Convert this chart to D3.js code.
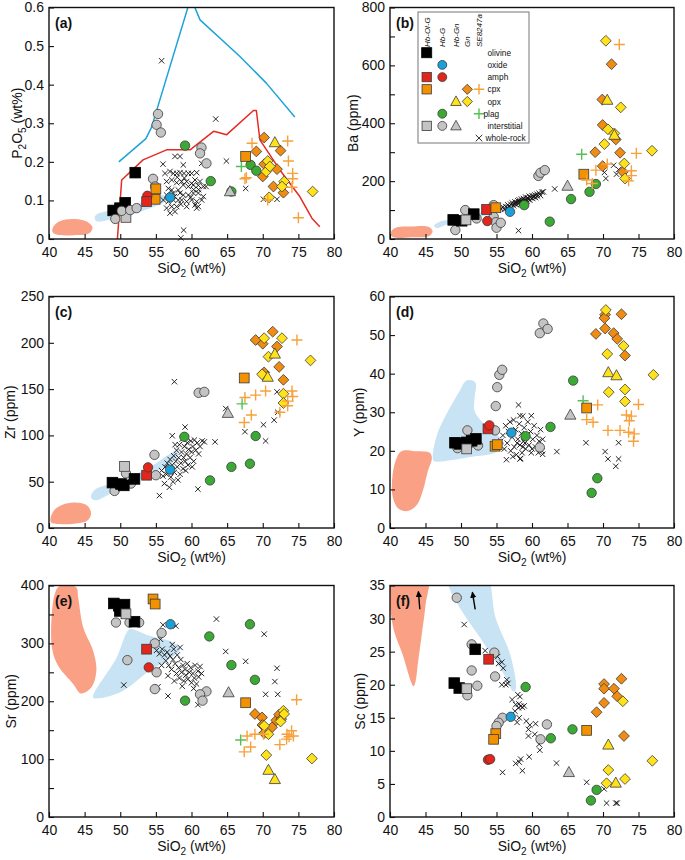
<!DOCTYPE html>
<html><head><meta charset="utf-8">
<script src="https://cdn.jsdelivr.net/npm/d3@7"></script>
<style>
body{margin:0;background:#fff}
svg{display:block}
text{font-family:"Liberation Sans",Arial,Helvetica,sans-serif;fill:#111}
</style>
</head><body>
<svg id="c" width="685" height="860"></svg>
<script>
// ---------------- DATA ----------------
const siO2Ticks = [40,45,50,55,60,65,70,75,80];

// Panel (a) P2O5
const a_yMajor = [0,0.1,0.2,0.3,0.4,0.5,0.6];
const a_salmon = [[40.6,0.032],[41.5,0.046],[43.3,0.052],[45.2,0.046],[46.1,0.030],[45.6,0.014],[43.5,0.010],[41.2,0.011],[40.5,0.018]];
const a_blue = [[46.4,0.056],[46.7,0.046],[50,0.057],[53,0.072],[56.3,0.097],[56.6,0.108],[55.6,0.114],[52.5,0.092],[49.2,0.076],[46.9,0.066]];
const a_blueLine = [[49.8,0.20],[53.6,0.26],[54.4,0.29],[59.9,0.625],[61.2,0.568],[66.8,0.473],[70.5,0.404],[74.5,0.316]];
const a_redLine = [[49.6,0],[50.2,0.153],[53.2,0.205],[56.5,0.231],[59.8,0.231],[63.1,0.279],[63.8,0.276],[64.9,0.27],[68.7,0.333],[69.1,0.333],[69.6,0.257],[72.4,0.179],[75.2,0.11],[76.9,0.054],[78.0,0.032]];
const a_wr = [[55.8,0.462],[63.4,0.311],[56.0,0.194],[64.9,0.202],[67.6,0.131],[70.1,0.103],[72.0,0.103],[58.9,0.023],[58.5,0.003],
 [57.68,0.214],[58.39,0.214],[58.85,0.192],[56.28,0.170],[56.98,0.175],[57.45,0.170],[57.92,0.170],[58.39,0.172],[58.95,0.170],[59.56,0.170],[60.02,0.170],[60.73,0.172],
 [56.51,0.149],[57.22,0.153],[57.92,0.146],[58.62,0.149],[59.32,0.149],[60.02,0.144],[60.49,0.153],[61.19,0.149],
 [56.75,0.131],[57.22,0.127],[58.15,0.127],[58.85,0.140],[59.56,0.136],[60.26,0.140],[60.96,0.139],[61.66,0.136],[62.04,0.136],
 [56.51,0.114],[57.45,0.119],[58.39,0.119],[58.85,0.114],[59.56,0.114],[60.26,0.119],[60.96,0.119],[61.66,0.110],
 [56.05,0.101],[56.75,0.097],[57.45,0.101],[58.15,0.101],[58.62,0.101],[59.32,0.097],[60.02,0.101],[60.73,0.097],[61.43,0.101],
 [56.51,0.080],[57.22,0.084],[57.92,0.084],[59.32,0.084],[60.49,0.088],[60.96,0.084],[56.98,0.067],[57.68,0.071],[60.73,0.080],[61.43,0.196],
 [58.0,0.160],[59.0,0.158],[60.3,0.128],[57.6,0.110],[59.9,0.108],[58.5,0.090],[61.0,0.128]];
const a_min = [["sqK",49.0,0.074],["sqK",49.96,0.08],["sqK",50.7,0.094],["sqK",52.1,0.172],["sqG",50.8,0.056],
 ["ciG",49.3,0.052],["ciG",50.2,0.073],["ciG",51.4,0.075],["ciG",52.3,0.08],["ciG",55.3,0.324],["ciG",55.1,0.296],["ciG",55.7,0.276],["ciG",54.6,0.156],["ciG",54.9,0.136],["ciG",61.4,0.237],["ciG",61.2,0.222],["ciG",62.1,0.196],
 ["sqO",55.0,0.13],["sqO",54.9,0.103],["ciR",53.8,0.112],["sqR",53.7,0.097],["ciB",57.0,0.108],
 ["ciGn",59.1,0.242],["ciGn",62.7,0.15],["ciGn",65.6,0.123],["trG",65.4,0.123],["ciGn",68.3,0.192],["ciGn",69.1,0.177],["plG",67.0,0.188],["sqO",67.6,0.214],
 ["diO",70.2,0.263],["diO",69.1,0.227],["diO",72.5,0.229],["diO",70.2,0.194],["diO",72.0,0.181],["diO",70.0,0.162],["diO",71.5,0.136],["diO",72.9,0.12],
 ["diY",70.7,0.202],["diY",70.5,0.175],["diY",71.0,0.188],["diY",73.0,0.149],["diY",72.7,0.136],["diY",70.9,0.108],["diY",77.0,0.123],["trY",71.7,0.25],
 ["plO",68.5,0.248],["plO",73.5,0.254],["plO",73.6,0.202],["plO",74.2,0.17],["plO",74.2,0.156],["plO",67.5,0.156],["plO",67.7,0.159],["plO",74.1,0.134],["plO",70.7,0.101],["plO",75.0,0.055]];

// Panel (b) Ba
const b_yMajor = [0,200,400,600,800];
const b_yMinor = [100,300,500,700];
const b_salmon = [[40.2,28],[40.9,40],[43,43],[45.4,42],[46.0,27],[45.5,10],[43,6],[40.6,5],[40.1,14]];
const b_blue = [[46.2,46],[47,60],[50,72],[53.5,98],[56,116],[55.8,100],[52.5,76],[48.5,54],[46.6,38]];
const b_wr = [[55.6,104],[55.9,110],[56.1,102],[56.3,112],[56.5,108],[56.6,118],[56.8,112],[57.0,120],[57.1,108],[57.2,125],[57.4,115],[57.5,122],[57.6,128],[57.8,118],[57.9,126],[58.0,132],[58.1,122],[58.2,135],[58.3,128],[58.4,120],[58.5,138],[58.6,130],[58.7,125],[58.8,140],[58.9,133],[59.0,128],[59.1,145],[59.2,136],[59.3,130],[59.4,142],[59.5,138],[59.6,148],[59.7,134],[59.8,143],[60.0,150],[60.1,140],[60.2,146],[60.4,152],[60.5,143],[60.7,155],[60.8,148],[61.0,158],[61.2,150],[61.4,162],[61.6,163],[63.2,173],[58.1,29],[70.2,230],[70.4,209],[71.5,255],[71.9,224],[72.2,240]];
const b_min = [["ciG",49.2,31],["ciG",50.6,100],["ciG",52.2,71],["ciG",54.6,117],["ciG",54.6,77],["ciG",54.9,58],["ciG",55.0,39],["ciG",55.6,56],["ciG",60.9,218],["ciG",61.2,229],["ciG",61.8,238],
 ["sqK",48.9,66],["sqK",50.1,63],["sqK",51.8,86],["sqG",50.7,66],["sqR",53.6,102],["sqO",54.9,108],["ciR",53.7,62],["ciB",56.9,94],
 ["trG",65.0,183],["ciGn",58.9,117],["ciGn",62.5,60],["ciGn",65.5,138],["ciGn",68.1,163],["ciGn",69.0,190],["sqO",67.3,224],
 ["diO",71.2,604],["diO",69.9,482],["diO",69.95,394],["diO",71.8,344],["diO",68.9,300],["diO",72.4,298],["diO",69.95,252],["diO",72.8,232],
 ["diY",70.4,685],["diY",72.5,455],["diY",70.7,379],["diY",70.2,328],["diY",71.6,365],["diY",73.0,261],["diY",76.9,305],["diY",73.1,209],
 ["trY",70.6,480],["trY",71.6,359],
 ["plO",72.3,672],["plO",74.7,296],["plO",69.0,238],["plO",70.6,259],["plO",74.0,236],["plO",74.0,219],["plO",73.6,201],["plO",67.7,204],["plO",68.5,192],["plG",67.0,293]];

// Panel (c) Zr
const c_yMajor = [0,50,100,150,200,250];
const c_salmon = [[40.2,10],[40.7,19],[41.9,25],[43.5,27.5],[45.3,24.5],[45.9,16],[45.4,8],[43.5,4.5],[41.5,4.2],[40.3,6]];
const c_blue = [[45.9,33],[46.4,41],[50,51],[54,65],[57.4,82],[58.1,84],[57.9,75],[54,57],[50,43],[46.5,30]];
const c_wr = [[55.5,35],[56.9,44],[60.9,42],[57.6,158],[59.1,109],[64.8,129],[67.5,104],[70.1,111.5],[70.4,94],[71.6,116.5],[72.1,125],[72.0,147],[63.3,93],
 [55.8,62],[56.0,56],[56.3,66],[56.5,58],[56.6,70],[56.8,62],[57.0,74],[57.1,55],[57.3,68],[57.5,78],[57.6,60],[57.8,72],[57.9,84],[58.0,66],[58.2,76],[58.3,90],[58.4,58],[58.5,70],[58.6,82],[58.8,64],[58.9,76],[59.0,88],[59.1,72],[59.3,80],[59.4,92],[59.5,68],[59.6,85],[59.8,76],[59.9,94],[60.0,82],[60.2,88],[60.3,72],[60.4,95],[60.6,84],[60.8,92],[61.0,80],[61.2,88],[61.5,94],[61.8,93],[57.4,50],[58.1,52],[59.2,62],[60.1,66],[56.2,48],[57.7,90],[58.7,96],[57.3,99.6]];
const c_min = [["ciG",49.2,40],["ciG",50.8,59],["ciG",51.5,48],["ciG",54.8,79],["ciG",55.0,57],["ciG",61.0,146],["ciG",61.8,147],
 ["sqK",48.9,49],["sqK",50.1,47.5],["sqK",50.5,46],["sqK",52.0,53],["sqG",50.6,66.5],["sqR",53.7,57],["ciR",53.9,65.5],["ciB",57.0,63],
 ["ciGn",59.0,98.5],["ciGn",62.6,51.4],["ciGn",65.6,66],["ciGn",68.2,69.4],["ciGn",69.0,99.3],["trG",65.1,124],["plG",67.1,134],["sqO",67.4,162],
 ["diO",69.0,203],["diO",70.0,199],["diO",71.4,212],["diO",72.0,196],["diO",72.3,174],["diO",72.9,160],["diO",70.2,168],
 ["diY",70.2,205],["diY",72.7,205],["diY",70.8,185],["diY",76.7,181],["diY",72.9,145],["diY",72.9,135],["diY",69.9,166],
 ["trY",71.7,188],["trY",70.7,163],
 ["plO",74.8,203],["plO",67.5,141],["plO",69.0,143.5],["plO",70.4,148],["plO",74.1,148],["plO",74.2,142],["plO",73.5,137],["plO",73.5,132],["plO",68.4,122],["plO",67.4,114],["plO",72.4,125]];

// Panel (d) Y
const d_yMajor = [0,10,20,30,40,50,60];
const d_salmon = [[41.6,19.9],[43.5,19.9],[45.6,19.5],[45.9,18.2],[45.3,14.5],[44.6,9.5],[43.8,6.0],[42.5,4.4],[41.2,5.0],[40.4,8.0],[40.3,12.5],[40.8,17.5]];
const d_blue = [[46.1,17.5],[46.6,24.0],[49.8,35.5],[50.8,38.2],[52.0,37.8],[51.9,33.4],[51.9,30.4],[53.4,26.6],[56.0,22.2],[55.0,19.7],[51.3,18.4],[46.6,17.2]];
const d_wr = [[58.1,31.9],[59.9,29.1],[58.3,29.1],[58.7,29.0],[56.4,17.7],[58.3,17.9],[61.5,19.1],[63.5,19.8],[67.6,22.1],[70.3,19.8],[70.7,17.9],[72.2,22.1],[72.2,17.9],[71.8,16.0],
 [55.6,22.5],[55.9,24.0],[56.1,20.5],[56.3,26.5],[56.5,22.0],[56.7,25.0],[56.9,27.5],[57.0,20.0],[57.2,23.5],[57.4,28.0],[57.5,21.0],[57.7,25.5],[57.8,19.0],[58.0,23.0],[58.2,27.0],[58.3,21.5],[58.5,24.5],[58.6,19.5],[58.8,22.5],[58.9,26.0],[59.1,20.5],[59.3,24.0],[59.4,27.5],[59.6,21.5],[59.8,25.0],[59.9,19.5],[60.1,23.0],[60.3,26.5],[60.5,21.0],[60.7,24.0],[60.9,19.5],[61.0,22.5],[61.2,25.5],[61.4,20.0],[61.5,23.0],[58.4,18.0],[57.3,18.5],[60.0,20.5],[59.0,22.0],[57.9,22.0],[58.7,21.0]];
const d_min = [["ciG",49.5,20.7],["ciG",50.9,25.3],["ciG",52.4,21.4],["ciG",54.8,25.3],["ciG",54.9,31.6],["ciG",55.1,36.5],["ciG",55.4,39.7],["ciG",55.8,41.0],["ciG",61.1,20.9],["ciG",61.6,53.0],["ciG",61.1,50.5],["ciG",62.2,51.6],
 ["sqK",49.15,22.1],["sqK",49.8,21.8],["sqK",50.8,22.2],["sqK",51.5,22.6],["sqK",52.1,23.1],["sqG",50.8,20.5],["sqR",53.8,25.7],["ciR",54.0,26.6],["sqO",54.8,21.2],["sqO",55.1,21.6],["ciB",57.1,24.7],
 ["ciGn",59.1,23.8],["ciGn",62.6,26.2],["ciGn",65.8,38.2],["ciGn",69.2,12.9],["ciGn",68.4,9.1],["trG",65.4,29.3],["plG",67.2,33.0],["sqO",67.7,31.1],
 ["diO",70.3,55.3],["diO",72.6,55.4],["diO",70.2,54.4],["diO",69.0,50.3],["diO",70.3,51.7],["diO",71.5,50.5],["diO",72.0,49.0],["diO",73.1,44.7],
 ["diY",70.4,56.5],["diY",72.9,47.2],["diY",70.6,45.1],["diY",73.1,35.9],["diY",70.8,35.2],["diY",73.1,32.8],["diY",77.1,39.7],
 ["trY",70.75,40.3],["trY",71.9,39.5],
 ["plO",69.25,31.9],["plO",67.7,28.1],["plO",68.6,27.4],["plO",70.7,25.3],["plO",72.4,25.3],["plO",73.3,29.3],["plO",74.0,29.0],["plO",73.7,27.8],["plO",73.6,24.8],["plO",74.4,24.4],["plO",74.3,22.5],["plO",75.0,32.0]];

// Panel (e) Sr
const e_yMajor = [0,100,200,300,400];
const e_yMinor = [50,150,250,350];
const e_salmon = [[41.5,399],[43.8,397],[44.1,379],[44.8,328],[46.2,287],[46.65,253],[45.95,224],[44.5,213.5],[43.4,230],[41.3,261],[40.5,287],[40.3,322],[40.8,385]];
const e_blue = [[46.2,206.6],[49.5,275.8],[50.9,319],[51.4,324.8],[54.1,313],[57.4,301.7],[58.4,290],[56.5,270],[54.1,252.7],[50.4,218],[47.35,205.5]];
const e_wr = [[55.1,288],[55.5,282],[55.9,290],[56.2,280],[56.4,270],[56.6,285],[56.8,262],[57.0,278],[57.2,255],[57.4,272],[57.5,290],[57.7,265],[57.9,248],[58.0,280],[58.2,258],[58.3,240],[58.5,272],[58.6,250],[58.8,262],[58.9,235],[59.1,255],[59.2,245],[59.4,265],[59.5,238],[59.7,250],[59.9,258],[60.0,232],[60.2,248],[60.4,240],[60.5,262],[60.7,230],[60.9,252],[61.0,242],[61.2,260],[61.4,248],[57.6,235],[56.7,244],[55.8,262],[58.7,226],[60.3,222],[57.3,298],[58.4,293],
 [50.5,228],[56.0,332],[57.8,330],[63.5,342],[64.8,286],[67.6,269],[70.2,316],[72.0,257],[71.7,234],[70.4,212],[72.1,212],[56.7,209],[60.9,194],[55.3,225],[55.65,307]];
const e_min = [["ciG",49.4,336],["ciG",51.3,336],["ciG",52.65,336],["ciG",51.0,271],["ciG",55.8,318],["ciG",54.85,300],["ciG",55.1,250],["ciG",54.85,221],["ciG",62.1,217],["ciG",61.2,212],["ciG",61.55,201],
 ["sqK",49.1,369],["sqK",49.8,365],["sqK",49.95,356],["sqK",50.6,367],["sqK",52.0,337.5],["sqG",50.8,351],
 ["sqO",54.6,376.7],["sqO",54.9,368],["sqR",53.7,290],["ciR",54.0,258.5],["ciB",57.05,333],
 ["ciGn",68.2,333],["ciGn",62.5,312],["ciGn",65.6,262.5],["ciGn",68.9,237],["ciGn",59.1,201],["trG",65.2,215],["sqO",67.6,197.4],["plG",66.9,133],
 ["diO",68.9,178],["diO",69.9,172],["diO",69.95,159],["diO",70.2,145],["diO",71.3,155],["diO",71.9,167],["diO",72.3,177],["diO",72.6,169],
 ["diY",70.2,157.6],["diY",70.8,143],["diY",72.5,165],["diY",72.9,183.6],["diY",73.0,178],["diY",70.5,107],["diY",76.9,101],
 ["trY",70.8,81],["trY",71.7,65],
 ["plO",74.75,202.6],["plO",67.8,140],["plO",68.9,143],["plO",70.1,143],["plO",67.4,112.6],["plO",68.3,121],["plO",72.4,125],["plO",73.4,143],["plO",74.05,149],["plO",74.3,140],["plO",73.35,134.6],["plO",73.7,138.6]];

// Panel (f) Sc
const f_yMajor = [0,5,10,15,20,25,30,35];
const f_salmon = [[39.6,37],[45.3,37],[45.0,32],[44.4,27],[43.9,23],[43.6,20.5],[43.3,19.75],[42.95,20.5],[41.8,24.5],[40.6,28],[40.1,31]];
const f_blue = [[48.0,37],[53.3,37],[54.9,30],[56.8,25],[57.5,22],[57.75,20],[57.6,19],[57.2,19.1],[56.8,20.2],[54.9,23.5],[52.6,27.25],[50.2,31],[48.4,34.5]];
const f_arrows = [[[44.2,31.4],[44.0,34.1]],[[52.0,31.4],[51.6,34.0]]];
const f_wr = [[50.45,29.1],[53.4,25.15],[55.15,24.25],[55.3,23.2],[55.75,23.4],[55.95,22.5],[55.75,20],[56.3,20],[56.45,20.75],[56.6,20.2],[55.85,6.75],[57.7,8.1],[58.4,8.75],[58.65,7],[58.2,8.3],[59.6,9.1],[63.45,8.15],[67.7,5.25],[70.5,2.1],[71.8,2.1],[72.0,2.1],[70.15,4.25],
 [57.2,17.75],[58.0,18.5],[58.15,17.1],[58.4,16.75],[58.65,16.6],[58.1,16.5],[57.6,16.0],[58.2,15],[57.9,14.3],[59.2,14.5],[59.7,13.9],[59.5,13.25],[60.5,14.1],[59.5,12.25],[60.4,12.5],[61.0,11],[61.1,10.1],[58.3,18.2],[58.9,16.8],[57.7,17.0]];
const f_min = [["ciG",49.4,33.15],["ciG",51.5,26.1],["ciG",51.5,22.15],["ciG",50.9,18.4],["ciG",52.3,19.85],["ciG",54.7,24.85],["ciG",54.8,21.25],["ciG",55.85,15],["ciG",55.3,14.25],["ciG",55.0,13.75],["ciG",62.1,14],["ciG",61.2,11.75],
 ["sqK",49.05,20.25],["sqK",49.75,19.5],["sqK",52.0,25.35],["sqG",50.8,19.4],["sqR",53.9,23.85],["ciR",53.8,8.65],["ciR",54.1,8.75],["sqO",54.9,12.6],["sqO",54.6,11.75],["ciB",57.0,15.15],
 ["ciGn",59.1,19.65],["ciGn",62.65,11.9],["ciGn",65.7,13.25],["ciGn",69.1,4.1],["ciGn",68.3,2.5],["trG",65.2,6.75],["sqO",67.7,13.1],
 ["diO",70.15,20.1],["diO",70.15,19.4],["diO",71.55,19.4],["diO",72.6,20.9],["diO",72.0,18.25],["diO",70.15,17.25],["diO",69.1,15.85],["diO",72.95,12.25],
 ["diY",72.8,17.5],["diY",70.75,7.1],["diY",70.5,5.1],["diY",73.1,5.75],["diY",76.95,8.5],
 ["trY",70.75,10.9],["trY",71.8,5.15]];

// Legend
const legendCols = ["Hb-Ol-G","Hb-G","Hb-Gn","Gn","SE8247a"];
const legendRows = [
 {label:"olivine", syms:[["sqK",0]]},
 {label:"oxide", syms:[["ciB",1]]},
 {label:"amph", syms:[["sqR",0],["ciR",1]]},
 {label:"cpx", syms:[["sqO",0],["diO",3],["plO",4]]},
 {label:"opx", syms:[["trY",2],["diY",3]]},
 {label:"plag", syms:[["ciGn",1],["plG",4]]},
 {label:"interstitial", syms:[["sqG",0],["ciG",1],["trG",2]]},
 {label:"whole-rock", syms:[["wr",4]]}
];

// ---------------- STYLE ----------------
const SYM = {
 sqK:{shape:"square",fill:"#000",stroke:"#000"},
 sqR:{shape:"square",fill:"#e2261c"},
 sqO:{shape:"square",fill:"#f39200"},
 sqG:{shape:"square",fill:"#c4c4c4"},
 ciB:{shape:"circle",fill:"#1a9fd8"},
 ciR:{shape:"circle",fill:"#e2261c"},
 ciGn:{shape:"circle",fill:"#3aaa35"},
 ciG:{shape:"circle",fill:"#c4c4c4"},
 trY:{shape:"triangle",fill:"#ffe21a"},
 trG:{shape:"triangle",fill:"#c4c4c4"},
 diO:{shape:"diamond",fill:"#f08c12"},
 diY:{shape:"diamond",fill:"#ffe21a"},
 plO:{shape:"plus",color:"#f8a03a"},
 plG:{shape:"plus",color:"#55bf55"},
 wr:{shape:"cross",color:"#111"}
};
const SALMON="#f9a085", LBLUE="#c7e3f4";

function marker(g,key,px,py,sc){
 const s=SYM[key]; sc=sc||1;
 const st=s.stroke||"#3a3a3a";
 if(s.shape==="square"){const h=(key==="sqK"?5.3:4.9)*sc;
  g.append("rect").attr("x",px-h).attr("y",py-h).attr("width",2*h).attr("height",2*h).attr("fill",s.fill).attr("stroke",st).attr("stroke-width",0.8);}
 else if(s.shape==="circle"){g.append("circle").attr("cx",px).attr("cy",py).attr("r",4.7*sc).attr("fill",s.fill).attr("stroke",st).attr("stroke-width",0.8);}
 else if(s.shape==="diamond"){const h=5.4*sc;
  g.append("path").attr("d",`M${px},${py-h}L${px+h},${py}L${px},${py+h}L${px-h},${py}Z`).attr("fill",s.fill).attr("stroke",st).attr("stroke-width",0.8);}
 else if(s.shape==="triangle"){const h=5.6*sc;
  g.append("path").attr("d",`M${px},${py-h*1.05}L${px+h},${py+h*0.75}L${px-h},${py+h*0.75}Z`).attr("fill",s.fill).attr("stroke",st).attr("stroke-width",0.8);}
 else if(s.shape==="plus"){const h=5.5*sc;
  g.append("path").attr("d",`M${px-h},${py}H${px+h}M${px},${py-h}V${py+h}`).attr("stroke",s.color).attr("stroke-width",1.4).attr("fill","none");}
 else if(s.shape==="cross"){const h=2.7*sc;
  g.append("path").attr("d",`M${px-h},${py-h}L${px+h},${py+h}M${px+h},${py-h}L${px-h},${py+h}`).attr("stroke",s.color).attr("stroke-width",0.9).attr("fill","none");}
}

// ---------------- LAYOUT ----------------
const COLS=[{x:49,w:285},{x:390,w:284}];
const ROWS=[7.5,296.5,585.5];
const PH=231.5;

const panels=[
 {id:"a",c:0,r:0,ymax:0.6,major:a_yMajor,minor:[],ylab:[["P",0],["2",1],["O",0],["5",1],[" (wt%)",0]],ylx:17,
  fields:[[a_salmon,SALMON],[a_blue,LBLUE]],lines:[[a_blueLine,"#1ca3dc"],[a_redLine,"#e52b22"]],wr:a_wr,min:a_min},
 {id:"b",c:1,r:0,ymax:800,major:b_yMajor,minor:b_yMinor,ylab:[["Ba (ppm)",0]],ylx:353,
  fields:[[b_salmon,SALMON],[b_blue,LBLUE]],lines:[],wr:b_wr,min:b_min,legend:true},
 {id:"c",c:0,r:1,ymax:250,major:c_yMajor,minor:[],ylab:[["Zr (ppm)",0]],ylx:10,
  fields:[[c_salmon,SALMON],[c_blue,LBLUE]],lines:[],wr:c_wr,min:c_min},
 {id:"d",c:1,r:1,ymax:60,major:d_yMajor,minor:[],ylab:[["Y (ppm)",0]],ylx:359,
  fields:[[d_salmon,SALMON],[d_blue,LBLUE]],lines:[],wr:d_wr,min:d_min},
 {id:"e",c:0,r:2,ymax:400,major:e_yMajor,minor:e_yMinor,ylab:[["Sr (ppm)",0]],ylx:11,
  fields:[[e_salmon,SALMON],[e_blue,LBLUE]],lines:[],wr:e_wr,min:e_min},
 {id:"f",c:1,r:2,ymax:35,major:f_yMajor,minor:[],ylab:[["Sc (ppm)",0]],ylx:360,
  fields:[[f_salmon,SALMON],[f_blue,LBLUE]],lines:[],arrows:f_arrows,wr:f_wr,min:f_min}
];

const svg=d3.select("#c");
const defs=svg.append("defs");
defs.append("marker").attr("id","arr").attr("viewBox","0 0 10 10").attr("refX",9).attr("refY",5)
 .attr("markerWidth",4.5).attr("markerHeight",4.5).attr("orient","auto")
 .append("path").attr("d","M0,0L10,5L0,10Z").attr("fill","#000");

function subText(sel,parts,baseSize){
 parts.forEach(([t,sub],i)=>{
  const ts=sel.append("tspan").text(t);
  if(sub){ts.attr("font-size",baseSize*0.72).attr("dy",4);}
  else if(i>0 && parts[i-1][1]){ts.attr("dy",-4);}
 });
}

panels.forEach(p=>{
 const X0=COLS[p.c].x, W=COLS[p.c].w, Y0=ROWS[p.r];
 const g=svg.append("g").attr("transform",`translate(${X0},${Y0})`);
 const x=d3.scaleLinear().domain([40,80]).range([0,W]);
 const y=d3.scaleLinear().domain([0,p.ymax]).range([PH,0]);
 const cid="clip"+p.id;
 defs.append("clipPath").attr("id",cid).append("rect").attr("width",W).attr("height",PH);
 const inner=g.append("g").attr("clip-path",`url(#${cid})`);
 const closed=d3.line().x(d=>x(d[0])).y(d=>y(d[1])).curve(d3.curveCatmullRomClosed.alpha(0.5));
 p.fields.forEach(([pts,col])=>inner.append("path").attr("d",closed(pts)).attr("fill",col));
 const open=d3.line().x(d=>x(d[0])).y(d=>y(d[1]));
 p.lines.forEach(([pts,col])=>inner.append("path").attr("d",open(pts)).attr("fill","none").attr("stroke",col).attr("stroke-width",1.5).attr("stroke-linejoin","round"));
 (p.arrows||[]).forEach(a=>inner.append("path").attr("d",open(a)).attr("stroke","#000").attr("stroke-width",1.4).attr("fill","none").attr("marker-end","url(#arr)"));
 const mk=g.append("g");
 p.wr.forEach(d=>marker(mk,"wr",x(d[0]),y(d[1])));
 p.min.forEach(d=>marker(mk,d[0],x(d[1]),y(d[2])));

 // axes
 g.append("g").attr("transform",`translate(0,${PH})`)
  .call(d3.axisBottom(x).tickValues(siO2Ticks).tickSize(-5).tickPadding(8).tickFormat(d3.format("d")));
 g.append("g").call(d3.axisLeft(y).tickValues(p.major).tickSize(-5).tickPadding(5).tickFormat(d=>String(d)));
 if(p.minor.length) g.append("g").call(d3.axisLeft(y).tickValues(p.minor).tickSize(-5).tickFormat(""));
 g.selectAll(".domain").remove();
 g.selectAll(".tick line").attr("stroke","#111").attr("stroke-width",1.1);
 g.selectAll(".tick text").attr("font-size",14).attr("font-family",'"Liberation Sans",Arial,sans-serif').attr("fill","#111");
 g.append("rect").attr("width",W).attr("height",PH).attr("fill","none").attr("stroke","#111").attr("stroke-width",1.4);

 // panel label
 g.append("text").attr("x",6).attr("y",20).attr("font-size",14).attr("font-weight","bold").attr("fill","#111").text(`(${p.id})`);

 // x title
 const xt=g.append("text").attr("x",W/2).attr("y",PH+34).attr("text-anchor","middle").attr("font-size",14).attr("fill","#111");
 subText(xt,[["SiO",0],["2",1],[" (wt%)",0]],14);
 // y title
 const yt=svg.append("text").attr("transform",`translate(${p.ylx},${Y0+PH/2}) rotate(-90)`)
  .attr("text-anchor","middle").attr("dy","0.35em").attr("font-size",14).attr("fill","#111");
 subText(yt,p.ylab,14);

 if(p.legend){
  const L=svg.append("g");
  const bx=418, by=12, bw=111, bh=131;
  L.append("rect").attr("x",bx).attr("y",by).attr("width",bw).attr("height",bh).attr("fill","#fff").attr("stroke","#777").attr("stroke-width",1);
  const colX=[426.7,442.3,456,467.3,479];
  legendCols.forEach((t,i)=>{
   L.append("text").attr("transform",`translate(${colX[i]+3},47) rotate(-90)`).attr("font-size",8).attr("font-style","italic").attr("fill","#222").text(t);
  });
  legendRows.forEach((r,i)=>{
   const ry=52.7+i*12.2;
   r.syms.forEach(([k,ci])=>marker(L,k,colX[ci],ry,k==="wr"?1.2:0.95));
   const lx = r.label==="plag"?483.5:(r.label==="whole-rock"?485.5:487.5);
   L.append("text").attr("x",lx).attr("y",ry+3).attr("font-size",8.3).attr("fill","#222").text(r.label);
  });
 }
});
</script>
</body></html>
